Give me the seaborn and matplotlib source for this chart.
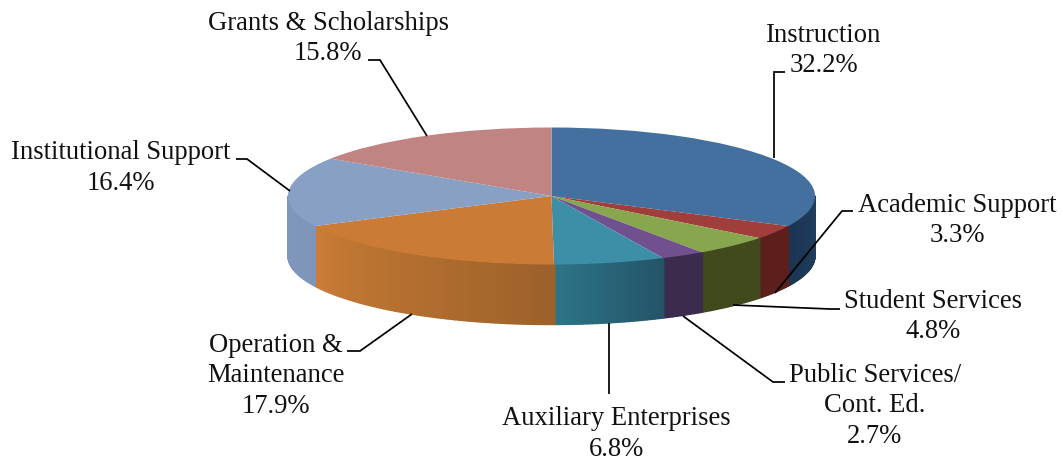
import numpy as np
import matplotlib
matplotlib.use("Agg")
import matplotlib.pyplot as plt
from matplotlib.collections import PolyCollection
from matplotlib.transforms import Affine2D
import seaborn as sns

# chart data, clockwise from 12 o'clock
label_lines = [["Instruction"],
               ["Academic Support"],
               ["Student Services"],
               ["Public Services/", "Cont. Ed."],
               ["Auxiliary Enterprises"],
               ["Operation &", "Maintenance"],
               ["Institutional Support"],
               ["Grants & Scholarships"]]
shares = [32.2, 3.3, 4.8, 2.7, 6.8, 17.9, 16.4, 15.8]

# colours of the top face and of the rim (rim runs from start to end colour, clockwise)
top_colors = ["#44709f", "#a03e3c", "#87a64d", "#70508f", "#3d8ea7", "#cb7b35", "#88a0c4", "#c08482"]
rim_start = ["#21405f", "#5c1f1c", "#414a1d", "#3b2b4d", "#245468", "#9c6129", "#7f95ba", "#a56f6d"]
rim_end = ["#1b3553", "#5c1f1c", "#414a1d", "#3b2b4d", "#2d7386", "#c97c36", "#8097bc", "#a56f6d"]

# layout in reference pixels
W, H = 1063, 458
cx, cy, rx, ry, depth = 551.5, 196, 263.5, 68.5, 60
text_x = [824, 957, 933, 875, 616, 276, 121, 328]
text_y = [42, 212, 308, 382, 425, 352, 159, 30]
line_gap = 30.5
leaders = [[(774, 158), (774, 72), (785, 72)],
           [(775, 293), (842, 211), (853, 211)],
           [(733, 305), (830, 309), (840, 309)],
           [(683, 316), (773, 382), (785, 382)],
           [(609, 323), (609, 394)],
           [(412, 314), (360, 351), (347, 351)],
           [(290, 191), (247, 159), (236, 159)],
           [(427, 136), (380, 60), (368, 60)]]

sns.set_theme(style="white")
plt.rcParams['font.family'] = ['Liberation Serif', 'DejaVu Serif']

fig = plt.figure(figsize=(W / 100, H / 100), dpi=100)
ax = fig.add_axes([0, 0, 1, 1])

# top face, squashed to an ellipse by the axes limits
ax.pie(shares, colors=top_colors, startangle=90, counterclock=False, radius=1,
       wedgeprops={'linewidth': 0, 'zorder': 3})
ax.set_aspect('auto')
ax.set_xlim(-cx / rx, (W - cx) / rx)
ax.set_ylim(-(H - cy) / ry, cy / ry)
ax.axis('off')

# rim below the front half of the ellipse
drop = depth / ry
edges = np.cumsum([0] + shares) / 100 * 2 * np.pi
polys, cols = [], []
for i in range(len(shares)):
    lo, hi = max(edges[i], np.pi / 2), min(edges[i + 1], 1.5 * np.pi)
    if hi <= lo:
        continue
    n = max(2, int(np.degrees(hi - lo)))
    th = np.linspace(lo, hi, n + 1)
    pal = sns.blend_palette([rim_start[i], rim_end[i]], n)
    for j in range(n):
        x0, x1 = np.sin(th[j]), np.sin(th[j + 1])
        y0, y1 = np.cos(th[j]), np.cos(th[j + 1])
        polys.append([(x0, y0), (x1, y1), (x1, y1 - drop), (x0, y0 - drop)])
        cols.append(pal[j])
ax.add_collection(PolyCollection(polys, facecolors=cols, edgecolors=cols, linewidths=1.0, zorder=2))

# leader lines and labels are placed in reference pixels
to_px = Affine2D().scale(1, -1).translate(0, H)
for pts in leaders:
    xs, ys = zip(*pts)
    ax.plot(xs, ys, color="black", lw=1.25, transform=to_px, zorder=4, clip_on=False,
            solid_joinstyle='miter', solid_capstyle='butt')
for lines, share, x, y in zip(label_lines, shares, text_x, text_y):
    for k, line in enumerate(lines + [f"{share:.1f}%"]):
        ax.text(x, y + k * line_gap, line, transform=to_px, ha='center', va='baseline',
                fontsize=19.2, color="#111111", zorder=5)

fig.savefig("out.png", dpi=100, facecolor="white")
